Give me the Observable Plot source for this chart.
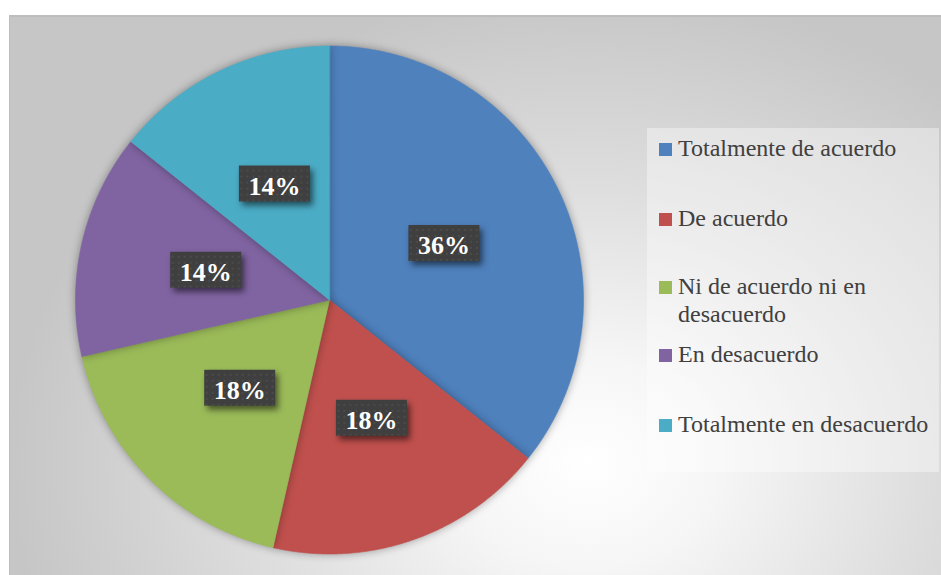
<!DOCTYPE html>
<html>
<head>
<meta charset="utf-8">
<script src="https://cdn.jsdelivr.net/npm/d3@7"></script>
<script src="https://cdn.jsdelivr.net/npm/@observablehq/plot@0.6"></script>
<style>
  html, body { margin: 0; padding: 0; background: #ffffff; }
  #wrap { position: relative; width: 941px; height: 575px; overflow: hidden; background: #fff; }
  #frame { position: absolute; left: 9px; top: 15px; width: 932px; height: 560px;
    border-left: 1px solid #bdbdbd; border-top: 2px solid #bdbdbd; box-sizing: border-box;
    background: radial-gradient(ellipse 62% 85% at 62% 80%, #ffffff 0%, #f6f6f6 22%, #dedede 58%, #c6c6c6 100%); }
  #chart { position: absolute; left: 0; top: 0; }
  #chart svg { background: transparent !important; }
  #legend { position: absolute; left: 0; top: 0; }
  .pie path { filter: drop-shadow(0 0 4px rgba(0,0,0,0.35)); }
  .boxes path { filter: drop-shadow(3px 4px 3px rgba(0,0,0,0.55)); }
</style>
</head>
<body>
<div id="wrap">
  <div id="frame"></div>
  <div id="chart"></div>
  <svg id="legend" width="941" height="575"></svg>
</div>
<script>
// ---- data ----
const categories = ["Totalmente de acuerdo", "De acuerdo", "Ni de acuerdo ni en desacuerdo", "En desacuerdo", "Totalmente en desacuerdo"];
const values = [10, 5, 5, 4, 4];
const colors = ["#4F81BD", "#C0504D", "#9BBB59", "#8064A2", "#4BACC6"];
const legendLines = [["Totalmente de acuerdo"], ["De acuerdo"], ["Ni de acuerdo ni en", "desacuerdo"], ["En desacuerdo"], ["Totalmente en desacuerdo"]];

// ---- geometry derived from data ----
const total = d3.sum(values);
const arcs = d3.pie().sort(null).value(d => d)(values);
const slicePts = [];
arcs.forEach((a, i) => {
  const cat = categories[i];
  slicePts.push({category: cat, x: 0, y: 0});
  const n = Math.max(2, Math.ceil((a.endAngle - a.startAngle) / 0.005));
  for (let k = 0; k <= n; k++) {
    const t = a.startAngle + (a.endAngle - a.startAngle) * k / n;
    slicePts.push({category: cat, x: Math.sin(t), y: Math.cos(t)});
  }
});
const labels = arcs.map((a, i) => {
  const m = (a.startAngle + a.endAngle) / 2;
  return {category: categories[i], x: 0.5 * Math.sin(m), y: 0.5 * Math.cos(m), text: d3.format(".0%")(values[i] / total)};
});

const boxSymbol = {
  draw(ctx) {
    ctx.moveTo(-35.5, -20); ctx.lineTo(35.5, -20); ctx.lineTo(35.5, 16); ctx.lineTo(-35.5, 16); ctx.closePath();
  }
};

const plot = Plot.plot({
  width: 941,
  height: 575,
  margin: 0,
  style: {background: "transparent"},
  x: {domain: [-1, 1], range: [75, 583], axis: null},
  y: {domain: [-1, 1], range: [553.5, 45.5], axis: null},
  color: {domain: categories, range: colors},
  marks: [
    Plot.line(slicePts, {x: "x", y: "y", z: "category", fill: "category", stroke: "category", strokeWidth: 0.6, curve: "linear-closed", className: "pie"}),
    Plot.dot(labels, {x: "x", y: "y", symbol: boxSymbol, r: 10, fill: "#404040", stroke: "none", className: "boxes"}),
    Plot.text(labels, {x: "x", y: "y", text: "text", fill: "white", fontSize: 26, fontWeight: "bold", fontFamily: "Liberation Serif, Times New Roman, serif", dy: 1})
  ]
});
document.getElementById("chart").appendChild(plot);

// dotted texture for label boxes
const svg = d3.select(plot);
const defs = svg.insert("defs", ":first-child");
const pat = defs.append("pattern").attr("id", "dots").attr("patternUnits", "userSpaceOnUse").attr("width", 6).attr("height", 6);
pat.append("rect").attr("width", 6).attr("height", 6).attr("fill", "#3f3f3f");
pat.append("circle").attr("cx", 3).attr("cy", 3).attr("r", 1.1).attr("fill", "#4d4d4d");
svg.selectAll(".boxes path").attr("fill", "url(#dots)");

// ---- legend ----
const lg = d3.select("#legend");
lg.append("rect").attr("x", 647).attr("y", 128).attr("width", 292).attr("height", 344).attr("fill", "rgba(255,255,255,0.38)");
const baselines = [156, 226, 294, 362, 432];
legendLines.forEach((lines, i) => {
  lg.append("rect").attr("x", 659).attr("y", baselines[i] - 13).attr("width", 13).attr("height", 13).attr("fill", colors[i]);
  const t = lg.append("text").attr("x", 678).attr("y", baselines[i])
    .attr("font-family", "Liberation Serif, Times New Roman, serif").attr("font-size", 24).attr("fill", "#404040");
  lines.forEach((l, j) => t.append("tspan").attr("x", 678).attr("dy", j === 0 ? 0 : 27.5).text(l));
});
</script>
</body>
</html>
